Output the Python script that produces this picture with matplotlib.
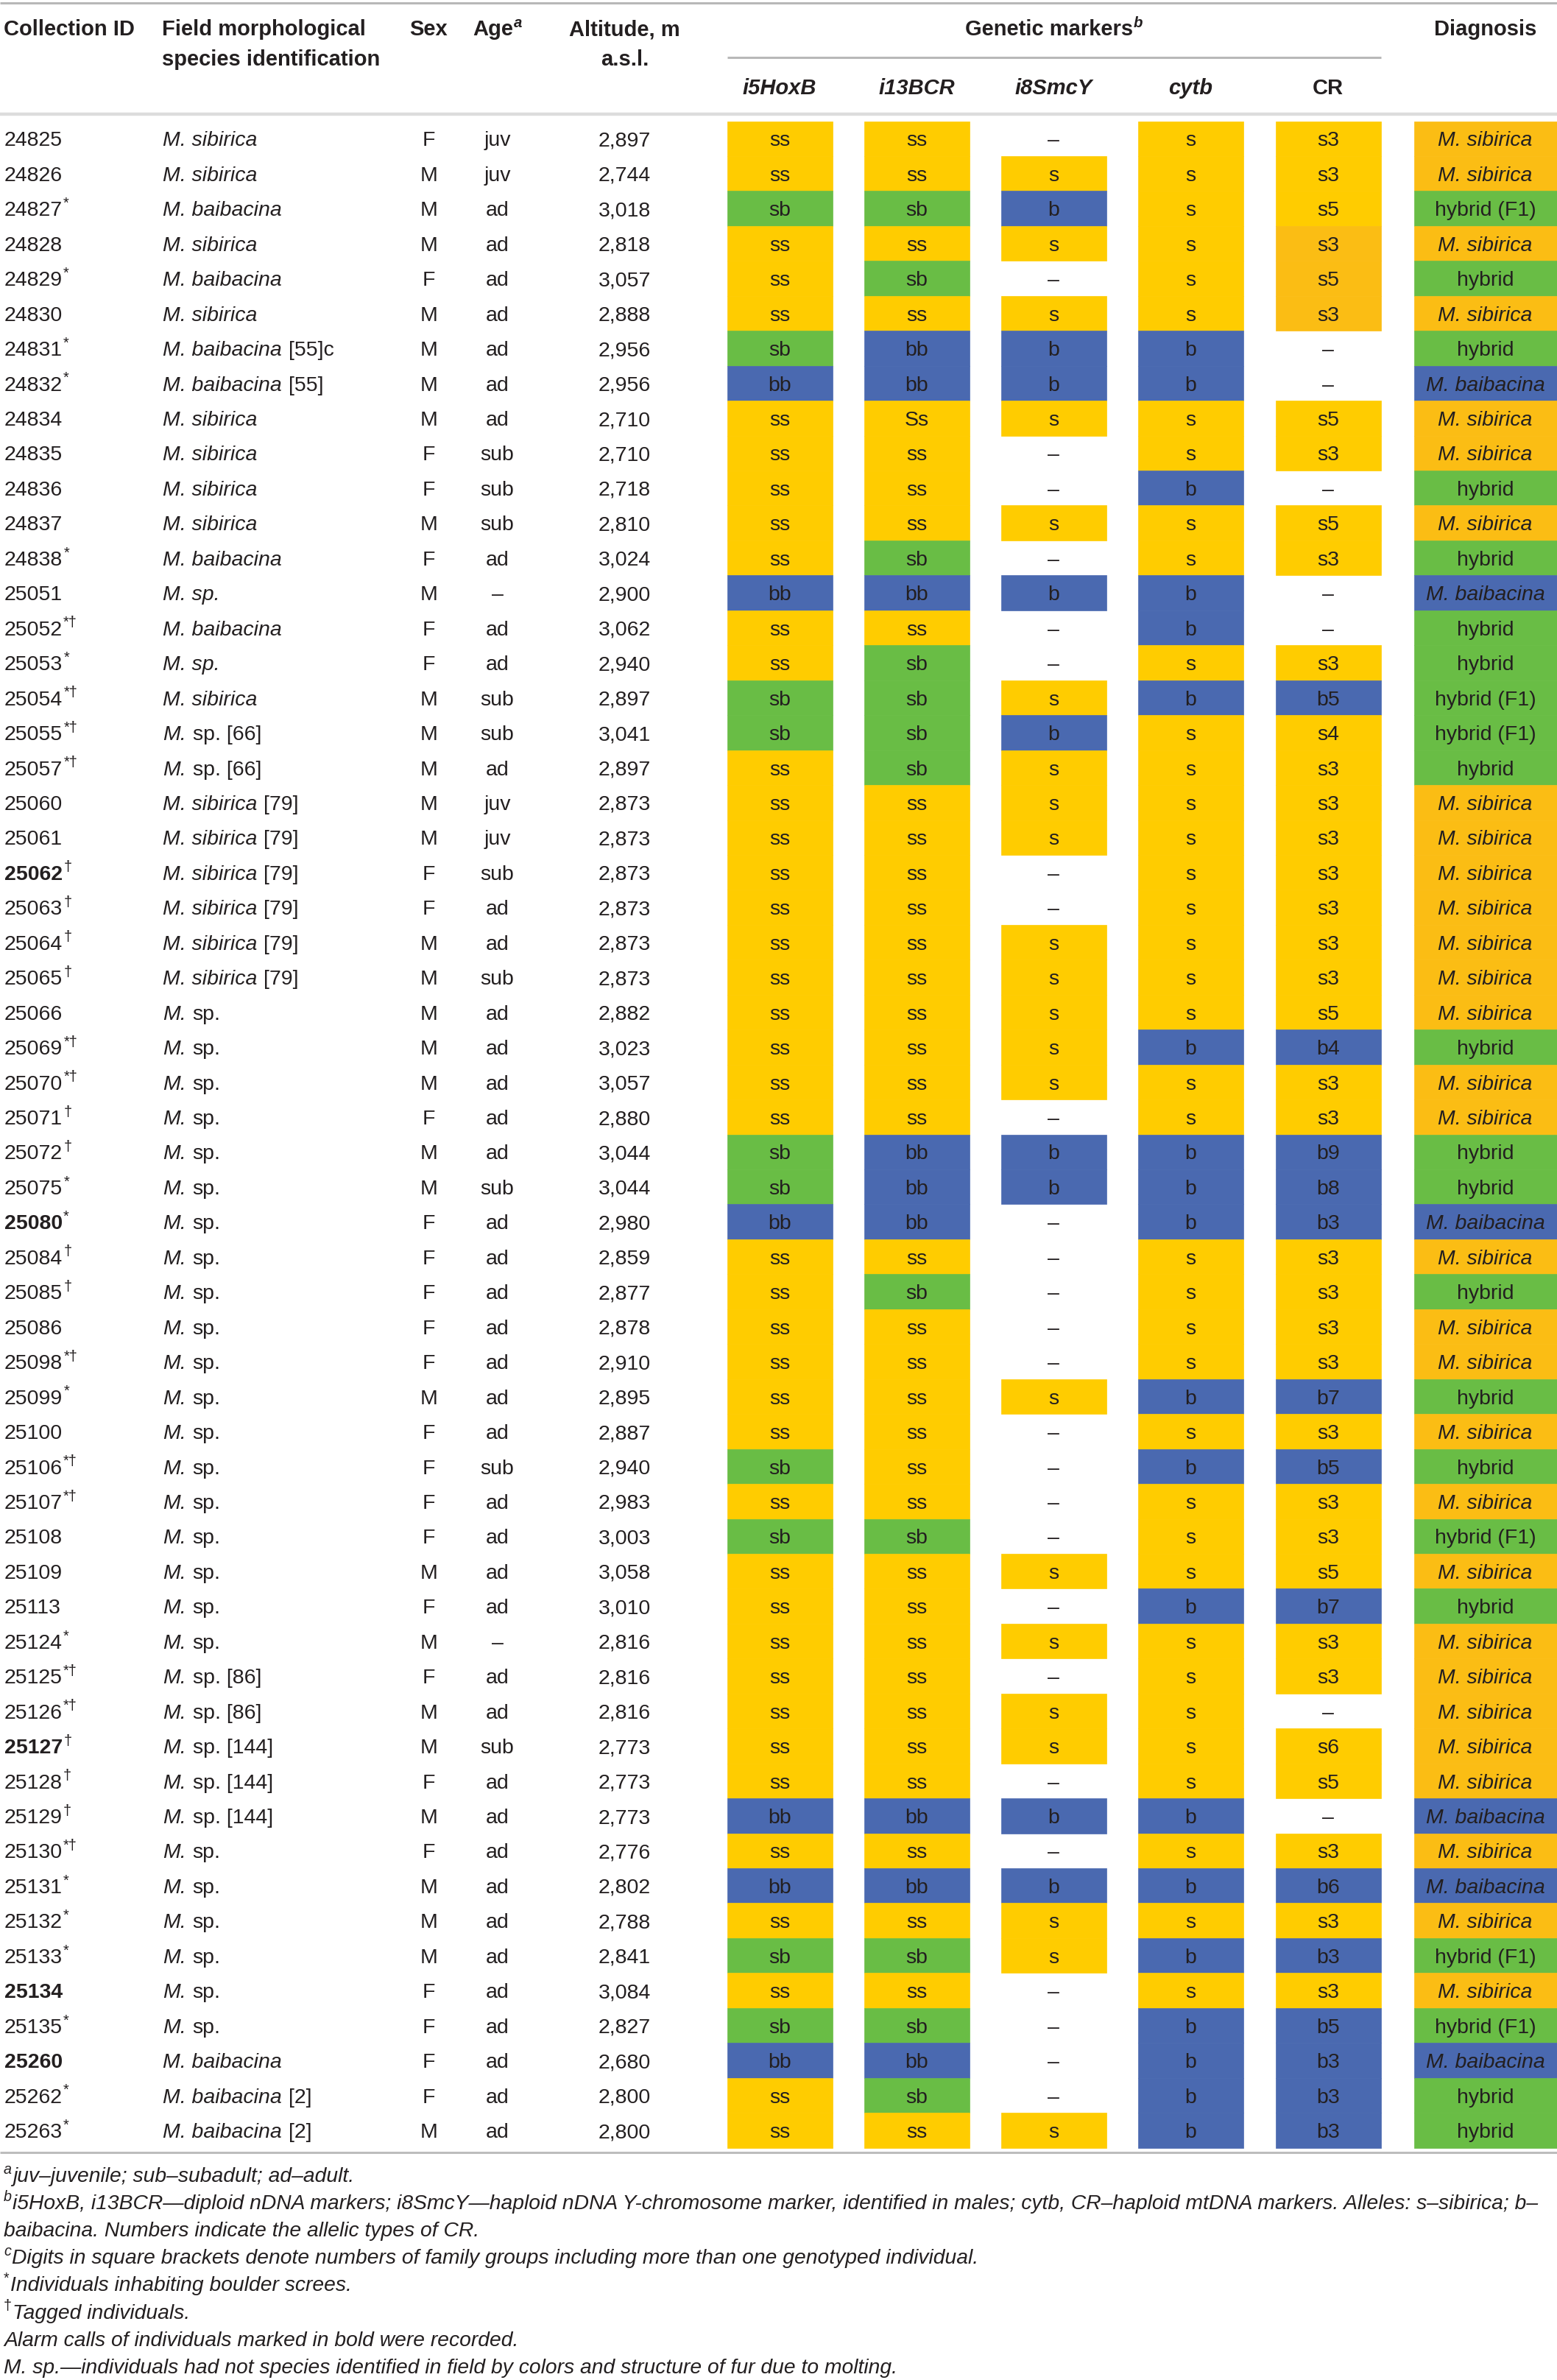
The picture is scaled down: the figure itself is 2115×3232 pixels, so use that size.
import matplotlib
matplotlib.use('Agg')
import matplotlib.pyplot as plt

plt.rcParams['font.family'] = ['Liberation Sans', 'DejaVu Sans']

# ---- table data ----
ids = ['24825', '24826', '24827', '24828', '24829', '24830', '24831', '24832', '24834', '24835',
       '24836', '24837', '24838', '25051', '25052', '25053', '25054', '25055', '25057', '25060',
       '25061', '25062', '25063', '25064', '25065', '25066', '25069', '25070', '25071', '25072',
       '25075', '25080', '25084', '25085', '25086', '25098', '25099', '25100', '25106', '25107',
       '25108', '25109', '25113', '25124', '25125', '25126', '25127', '25128', '25129', '25130',
       '25131', '25132', '25133', '25134', '25135', '25260', '25262', '25263']
marks = ['', '', '*', '', '*', '', '*', '*', '', '',
         '', '', '*', '', '*†', '*', '*†', '*†', '*†', '',
         '', '†', '†', '†', '†', '', '*†', '*†', '†', '†',
         '*', '*', '†', '†', '', '*†', '*', '', '*†', '*†',
         '', '', '', '*', '*†', '*†', '†', '†', '†', '*†',
         '*', '*', '*', '', '*', '', '*', '*']
bold_ids = ['25062', '25080', '25127', '25134', '25260']

sp_italic = ['M. sibirica', 'M. sibirica', 'M. baibacina', 'M. sibirica', 'M. baibacina', 'M. sibirica',
             'M. baibacina', 'M. baibacina', 'M. sibirica', 'M. sibirica', 'M. sibirica', 'M. sibirica',
             'M. baibacina', 'M. sp.', 'M. baibacina', 'M. sp.', 'M. sibirica', 'M.', 'M.',
             'M. sibirica', 'M. sibirica', 'M. sibirica', 'M. sibirica', 'M. sibirica', 'M. sibirica'] + \
            ['M.'] * 30 + ['M. baibacina'] * 3
sp_plain = ['', '', '', '', '', '', ' [55]c', ' [55]', '', '', '', '', '', '', '', '', '',
            ' sp. [66]', ' sp. [66]', ' [79]', ' [79]', ' [79]', ' [79]', ' [79]', ' [79]',
            ' sp.', ' sp.', ' sp.', ' sp.', ' sp.', ' sp.', ' sp.', ' sp.', ' sp.', ' sp.', ' sp.',
            ' sp.', ' sp.', ' sp.', ' sp.', ' sp.', ' sp.', ' sp.', ' sp.', ' sp. [86]', ' sp. [86]',
            ' sp. [144]', ' sp. [144]', ' sp. [144]', ' sp.', ' sp.', ' sp.', ' sp.', ' sp.', ' sp.',
            '', ' [2]', ' [2]']

sex = list('FMMMFMMMMFFMFMFFMMMMMFFMMMMMFMMFFFFFMFFFFMFMFMMFMFMMMFFFFM')
age = ['juv', 'juv', 'ad', 'ad', 'ad', 'ad', 'ad', 'ad', 'ad', 'sub', 'sub', 'sub', 'ad', '–', 'ad',
       'ad', 'sub', 'sub', 'ad', 'juv', 'juv', 'sub', 'ad', 'ad', 'sub', 'ad', 'ad', 'ad', 'ad', 'ad',
       'sub', 'ad', 'ad', 'ad', 'ad', 'ad', 'ad', 'ad', 'sub', 'ad', 'ad', 'ad', 'ad', '–', 'ad',
       'ad', 'sub', 'ad', 'ad', 'ad', 'ad', 'ad', 'ad', 'ad', 'ad', 'ad', 'ad', 'ad']
altitude = [2897, 2744, 3018, 2818, 3057, 2888, 2956, 2956, 2710, 2710, 2718, 2810, 3024, 2900, 3062,
            2940, 2897, 3041, 2897, 2873, 2873, 2873, 2873, 2873, 2873, 2882, 3023, 3057, 2880, 3044,
            3044, 2980, 2859, 2877, 2878, 2910, 2895, 2887, 2940, 2983, 3003, 3058, 3010, 2816, 2816,
            2816, 2773, 2773, 2773, 2776, 2802, 2788, 2841, 3084, 2827, 2680, 2800, 2800]

i5HoxB = ['ss', 'ss', 'sb', 'ss', 'ss', 'ss', 'sb', 'bb', 'ss', 'ss', 'ss', 'ss', 'ss', 'bb', 'ss',
          'ss', 'sb', 'sb', 'ss', 'ss', 'ss', 'ss', 'ss', 'ss', 'ss', 'ss', 'ss', 'ss', 'ss', 'sb',
          'sb', 'bb', 'ss', 'ss', 'ss', 'ss', 'ss', 'ss', 'sb', 'ss', 'sb', 'ss', 'ss', 'ss', 'ss',
          'ss', 'ss', 'ss', 'bb', 'ss', 'bb', 'ss', 'sb', 'ss', 'sb', 'bb', 'ss', 'ss']
i13BCR = ['ss', 'ss', 'sb', 'ss', 'sb', 'ss', 'bb', 'bb', 'Ss', 'ss', 'ss', 'ss', 'sb', 'bb', 'ss',
          'sb', 'sb', 'sb', 'sb', 'ss', 'ss', 'ss', 'ss', 'ss', 'ss', 'ss', 'ss', 'ss', 'ss', 'bb',
          'bb', 'bb', 'ss', 'sb', 'ss', 'ss', 'ss', 'ss', 'ss', 'ss', 'sb', 'ss', 'ss', 'ss', 'ss',
          'ss', 'ss', 'ss', 'bb', 'ss', 'bb', 'ss', 'sb', 'ss', 'sb', 'bb', 'sb', 'ss']
i8SmcY = ['–', 's', 'b', 's', '–', 's', 'b', 'b', 's', '–', '–', 's', '–', 'b', '–',
          '–', 's', 'b', 's', 's', 's', '–', '–', 's', 's', 's', 's', 's', '–', 'b',
          'b', '–', '–', '–', '–', '–', 's', '–', '–', '–', '–', 's', '–', 's', '–',
          's', 's', '–', 'b', '–', 'b', 's', 's', '–', '–', '–', '–', 's']
cytb = ['s', 's', 's', 's', 's', 's', 'b', 'b', 's', 's', 'b', 's', 's', 'b', 'b',
        's', 'b', 's', 's', 's', 's', 's', 's', 's', 's', 's', 'b', 's', 's', 'b',
        'b', 'b', 's', 's', 's', 's', 'b', 's', 'b', 's', 's', 's', 'b', 's', 's',
        's', 's', 's', 'b', 's', 'b', 's', 'b', 's', 'b', 'b', 'b', 'b']
CR = ['s3', 's3', 's5', 's3', 's5', 's3', '–', '–', 's5', 's3', '–', 's5', 's3', '–', '–',
      's3', 'b5', 's4', 's3', 's3', 's3', 's3', 's3', 's3', 's3', 's5', 'b4', 's3', 's3', 'b9',
      'b8', 'b3', 's3', 's3', 's3', 's3', 'b7', 's3', 'b5', 's3', 's3', 's5', 'b7', 's3', 's3',
      '–', 's6', 's5', '–', 's3', 'b6', 's3', 'b3', 's3', 'b5', 'b3', 'b3', 'b3']
cr_highlight = ['24828', '24829', '24830']
diagnosis = ['M. sibirica', 'M. sibirica', 'hybrid (F1)', 'M. sibirica', 'hybrid', 'M. sibirica',
             'hybrid', 'M. baibacina', 'M. sibirica', 'M. sibirica', 'hybrid', 'M. sibirica', 'hybrid',
             'M. baibacina', 'hybrid', 'hybrid', 'hybrid (F1)', 'hybrid (F1)', 'hybrid',
             'M. sibirica', 'M. sibirica', 'M. sibirica', 'M. sibirica', 'M. sibirica', 'M. sibirica',
             'M. sibirica', 'hybrid', 'M. sibirica', 'M. sibirica', 'hybrid', 'hybrid', 'M. baibacina',
             'M. sibirica', 'hybrid', 'M. sibirica', 'M. sibirica', 'hybrid', 'M. sibirica', 'hybrid',
             'M. sibirica', 'hybrid (F1)', 'M. sibirica', 'hybrid', 'M. sibirica', 'M. sibirica',
             'M. sibirica', 'M. sibirica', 'M. sibirica', 'M. baibacina', 'M. sibirica', 'M. baibacina',
             'M. sibirica', 'hybrid (F1)', 'M. sibirica', 'hybrid (F1)', 'M. baibacina', 'hybrid', 'hybrid']

marker_names = ['i5HoxB', 'i13BCR', 'i8SmcY', 'cytb', 'CR']
marker_values = [i5HoxB, i13BCR, i8SmcY, cytb, CR]

footnotes = [
    [('a', 'is'), ('juv–juvenile; sub–subadult; ad–adult.', 'i')],
    [('b', 'is'), ('i5HoxB, i13BCR—diploid nDNA markers; i8SmcY—haploid nDNA Y-chromosome marker, '
                   'identified in males; cytb, CR–haploid mtDNA markers. Alleles: s–sibirica; b–', 'i')],
    [('baibacina. Numbers indicate the allelic types of CR.', 'i')],
    [('c', 'is'), ('Digits in square brackets denote numbers of family groups including more than one '
                   'genotyped individual.', 'i')],
    [('*', 's'), ('Individuals inhabiting boulder screes.', 'i')],
    [('†', 's'), ('Tagged individuals.', 'i')],
    [('Alarm calls of individuals marked in bold were recorded.', 'i')],
    [('M. sp.—individuals had not species identified in field by colors and structure of fur due to molting.', 'i')],
]

# ---- style ----
INK = '#231f20'
YELLOW = '#ffcc00'
ORANGE = '#fbbd14'
GREEN = '#69bd45'
BLUE = '#4a69b0'
PX = 100 / 72.0

W, H = 2115, 3232
fig = plt.figure(figsize=(W / 100, H / 100), dpi=100)
ax = fig.add_axes([0, 0, 1, 1])
ax.set_xlim(0, W)
ax.set_ylim(H, 0)
ax.axis('off')
rend = fig.canvas.get_renderer()

BODY = 20.5
HEAD = 21
ROW0 = 164.5
PITCH = 47.45
col_left = [988, 1174, 1360, 1546, 1733]
COL_W = 143
DIAG_L, DIAG_R = 1921, 2115


def runs(x, y, parts, size=BODY, ha='left', color=INK):
    """draw text made of styled pieces on one baseline; style: i=italic b=bold s=superscript"""
    arts = []
    cur = x
    for txt, st in parts:
        fs = size * 0.7 if 's' in st else size
        lead = len(txt) - len(txt.lstrip(' '))
        cur += lead * 0.278 * size * PX
        txt = txt.lstrip(' ')
        yy = y - 0.40 * size * PX if 's' in st else y
        t = ax.text(cur, yy, txt, fontsize=fs, color=color, va='baseline', ha='left',
                    fontstyle='italic' if 'i' in st else 'normal',
                    fontweight='bold' if 'b' in st else 'normal')
        bb = t.get_window_extent(renderer=rend)
        cur += bb.width + 1
        arts.append(t)
    total = cur - x
    shift = {'left': 0, 'center': -total / 2, 'right': -total}[ha]
    if shift:
        for t in arts:
            t.set_x(t.get_position()[0] + shift)
    return arts


def base(yc, size=BODY):
    return yc + 0.716 * size * PX / 2


# ---- rules ----
ax.hlines(4, 0, W, color='#b8b8b8', lw=2.2)
ax.hlines(78, col_left[0], col_left[-1] + COL_W, color='#b8b8b8', lw=2.2)
ax.hlines(155, 0, W, color='#dcdcdc', lw=3.2)
ax.hlines(2923, 0, W, color='#bdbdbd', lw=2.2)

# ---- header ----
hb1, hb2, hb3 = base(38, HEAD), base(79, HEAD), base(118, HEAD)
runs(5, hb1, [('Collection ID', 'b')], HEAD)
runs(220, hb1, [('Field morphological', 'b')], HEAD)
runs(220, hb2, [('species identification', 'b')], HEAD)
runs(583, hb1, [('Sex', 'b')], HEAD, ha='center')
runs(676, hb1, [('Age', 'b'), ('a', 'bis')], HEAD, ha='center')
runs(849, hb1, [('Altitude, m', 'b')], HEAD, ha='center')
runs(849, hb2, [('a.s.l.', 'b')], HEAD, ha='center')
runs((col_left[0] + col_left[-1] + COL_W) / 2, hb1, [('Genetic markers', 'b'), ('b', 'bis')], HEAD, ha='center')
runs((DIAG_L + DIAG_R) / 2, hb1, [('Diagnosis', 'b')], HEAD, ha='center')
for name, xl in zip(marker_names, col_left):
    runs(xl + COL_W / 2, hb3, [(name, 'b' if name == 'CR' else 'bi')], HEAD, ha='center')


def allele_color(v):
    if v == '–':
        return 'none'
    if v == 'sb':
        return GREEN
    if v.startswith('b'):
        return BLUE
    return YELLOW


diag_colors = {'M. sibirica': ORANGE, 'M. baibacina': BLUE, 'hybrid': GREEN, 'hybrid (F1)': GREEN}

tops = [ROW0 + i * PITCH for i in range(len(ids))]

# ---- coloured cells ----
for name, vals, xl in zip(marker_names, marker_values, col_left):
    cols = [allele_color(v) for v in vals]
    if name == 'CR':
        cols = [ORANGE if (ids[i] in cr_highlight and c != 'none') else c for i, c in enumerate(cols)]
    ax.bar([xl + COL_W / 2] * len(vals), [PITCH] * len(vals), bottom=tops, width=COL_W,
           color=cols, edgecolor=cols, linewidth=0.5, align='center')
dcols = [diag_colors[d] for d in diagnosis]
ax.bar([(DIAG_L + DIAG_R) / 2] * len(ids), [PITCH] * len(ids), bottom=tops, width=DIAG_R - DIAG_L,
       color=dcols, edgecolor=dcols, linewidth=0.5)

# ---- row text ----
for i in range(len(ids)):
    yb = base(tops[i] + PITCH / 2)
    parts = [(ids[i], 'b' if ids[i] in bold_ids else '')]
    if marks[i]:
        parts.append((marks[i], 's'))
    runs(6, yb, parts)
    sp = [(sp_italic[i], 'i')]
    if sp_plain[i]:
        sp.append((sp_plain[i], ''))
    runs(221, yb, sp)
    runs(583, yb, [(sex[i], '')], ha='center')
    runs(676, yb, [(age[i], '')], ha='center')
    runs(849, yb, [(f'{altitude[i]:,}', '')], ha='center')
    for vals, xl in zip(marker_values, col_left):
        runs(xl + COL_W / 2, yb, [(vals[i], '')], ha='center')
    d = diagnosis[i]
    runs((DIAG_L + DIAG_R) / 2, yb, [(d, 'i' if d.startswith('M.') else '')], ha='center')

# ---- footnotes ----
FOOT = 20.3
for k, parts in enumerate(footnotes):
    runs(5, base(2953 + k * 37.1, FOOT), parts, FOOT)

fig.savefig('out.png', dpi=100, facecolor='white')
